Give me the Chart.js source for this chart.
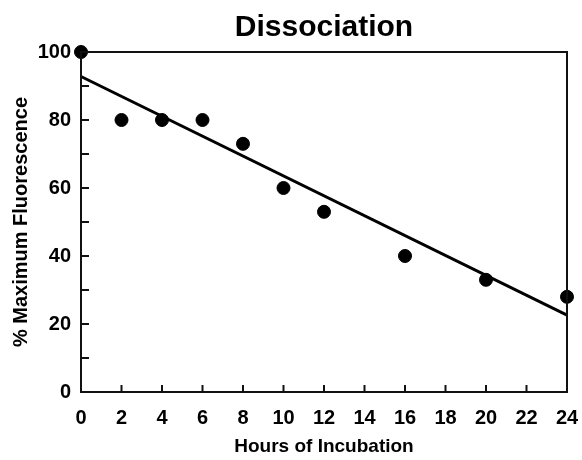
<!DOCTYPE html>
<html>
<head>
<meta charset="utf-8">
<script src="https://cdn.jsdelivr.net/npm/chart.js@4.4.0/dist/chart.umd.min.js"></script>
<style>
  html, body { margin: 0; padding: 0; background: #fff; }
  #wrap { width: 582px; height: 460px; }
</style>
</head>
<body>
<div id="wrap"><canvas id="chart" width="582" height="460"></canvas></div>
<script>
// measured points
var hours = [0, 2, 4, 6, 8, 10, 12, 16, 20, 24];
var fluorescence = [100, 80, 80, 80, 73, 60, 53, 40, 33, 28];
// fitted line, end points
var fitHours = [0, 24];
var fitValues = [92.8, 22.6];

var xTicks = [0, 2, 4, 6, 8, 10, 12, 14, 16, 18, 20, 22, 24];
var yTicks = [0, 20, 40, 60, 80, 100];

var font = "'Liberation Sans', Arial, Helvetica, sans-serif";

// frame + inward tick marks
var frame = {
  id: 'frame',
  afterDatasetsDraw: function(chart) {
    var ctx = chart.ctx, a = chart.chartArea;
    var xs = chart.scales.x, ys = chart.scales.y;
    ctx.save();
    ctx.strokeStyle = '#111';
    ctx.lineWidth = 2;
    ctx.strokeRect(a.left, a.top, a.right - a.left, a.bottom - a.top);
    ctx.beginPath();
    xs.ticks.forEach(function(t) {
      var px = xs.getPixelForValue(t.value);
      ctx.moveTo(px, a.bottom);
      ctx.lineTo(px, a.bottom - 7);
    });
    ys.ticks.forEach(function(t) {
      var py = ys.getPixelForValue(t.value);
      ctx.moveTo(a.left, py);
      ctx.lineTo(a.left + 8, py);
    });
    ctx.stroke();
    ctx.restore();
  }
};

new Chart(document.getElementById('chart'), {
  type: 'scatter',
  data: {
    datasets: [{
      type: 'scatter',
      data: hours.map(function(h, i) { return { x: h, y: fluorescence[i] }; }),
      backgroundColor: '#000',
      borderColor: '#000',
      pointRadius: 6.5,
      clip: false
    }, {
      type: 'line',
      data: fitHours.map(function(h, i) { return { x: h, y: fitValues[i] }; }),
      borderColor: '#000',
      borderWidth: 3,
      pointRadius: 0,
      fill: false,
      clip: false
    }]
  },
  options: {
    responsive: false,
    animation: false,
    layout: { padding: { left: 0, right: 15, top: 0, bottom: 0 } },
    plugins: {
      legend: { display: false },
      tooltip: { enabled: false },
      title: {
        display: true,
        text: 'Dissociation',
        fullSize: false,
        color: '#000',
        font: { family: font, size: 30, weight: 'bold' },
        padding: { top: 10, bottom: 6 }
      }
    },
    scales: {
      x: {
        type: 'linear',
        min: 0, max: 24,
        afterBuildTicks: function(s) { s.ticks = xTicks.map(function(v) { return { value: v }; }); },
        afterFit: function(s) { s.height = 68; s.paddingLeft = 0; s.paddingRight = 0; },
        grid: { display: false, drawTicks: false },
        border: { display: false },
        ticks: { color: '#000', padding: 14, maxRotation: 0, font: { family: font, size: 20, weight: 'bold' } },
        title: {
          display: true,
          text: 'Hours of Incubation',
          color: '#000',
          font: { family: font, size: 19, weight: 'bold' },
          padding: { top: 0, bottom: 2 }
        }
      },
      y: {
        type: 'linear',
        min: 0, max: 100,
        ticks: {
          stepSize: 10,
          color: '#000',
          padding: 10,
          font: { family: font, size: 20, weight: 'bold' },
          callback: function(v) { return yTicks.indexOf(v) >= 0 ? v : ''; }
        },
        afterFit: function(s) { s.width = 81; s.paddingTop = 0; s.paddingBottom = 0; },
        grid: { display: false, drawTicks: false },
        border: { display: false },
        title: {
          display: true,
          text: '% Maximum Fluorescence',
          color: '#000',
          font: { family: font, size: 20, weight: 'bold' },
          padding: { top: 9, bottom: 0 }
        }
      }
    }
  },
  plugins: [frame]
});
</script>
</body>
</html>
